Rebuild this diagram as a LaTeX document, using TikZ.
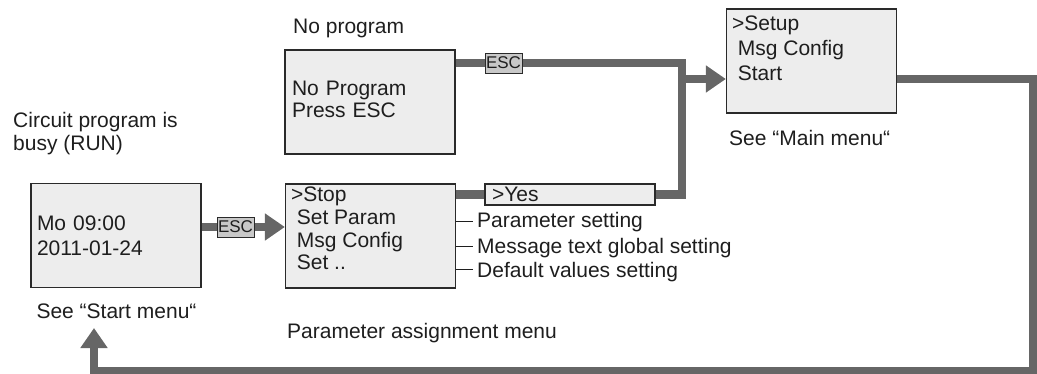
\documentclass[tikz,border=0pt]{standalone}
\usepackage{fontspec}
\setmainfont{Liberation Sans}
\setsansfont{Liberation Sans}
\usepackage{tikz}
\usetikzlibrary{positioning, arrows.meta, calc, backgrounds}
\definecolor{Scr_Fill}{HTML}{EDEDED}
\definecolor{Scr_Edge}{HTML}{2A2A2A}
\definecolor{Key_Fill}{HTML}{C8C8C8}
\definecolor{Flow_Grey}{HTML}{666666}
\definecolor{Txt_Dark}{HTML}{1E1E1E}

\begin{document}
\begin{tikzpicture}[
  x=1pt, y=-1pt,
  every node/.style={font=\fontsize{21}{24}\selectfont, text=Txt_Dark},
  screen/.style={draw=Scr_Edge, fill=Scr_Fill, line width=1.3pt, minimum width=170pt,
    minimum height=104pt, inner xsep=6pt, inner ysep=0pt, text width=158pt, align=left},
  scrtext/.style={inner sep=0pt, align=left, anchor=north west},
  esckey/.style={draw=Scr_Edge, fill=Key_Fill, line width=1pt, minimum width=37pt,
    minimum height=20pt, inner sep=0pt, font=\fontsize{17}{18}\selectfont},
  lbl/.style={inner sep=0pt, anchor=base west},
  conn/.style={draw=Flow_Grey, line width=8.5pt},
  arr/.style={conn, -{Triangle[length=20pt, width=26pt]}},
  tick/.style={draw=Txt_Dark, line width=1.3pt}
]
  \useasboundingbox (0,0) rectangle (1037,373);

  % Start screen (RUN)
  \node[lbl, anchor=north west, align=left, font=\fontsize{21}{23}\selectfont] (runlbl) at (13,112) {Circuit program is\\busy (RUN)};
  \node[screen, font=\fontsize{21}{25}\selectfont] (run) at (116,235.5) {Mo 09:00\\2011-01-24};
  \node[lbl] (runsee) at ([xshift=6pt, yshift=-30.5pt]run.south west) {See “Start menu“};

  % No program screen
  \node[lbl] (nplbl) at (293,33) {No program};
  \node[screen, font=\fontsize{21}{22.5}\selectfont, inner xsep=7pt, text width=156pt] (noprog) at (370,102) {No Program\\Press ESC\vspace{5pt}};

  % Parameter assignment menu
  \node[screen] (stop) at (370.5,236) {};
  \node[scrtext, font=\fontsize{21}{22.7}\selectfont] (stoptxt) at ([xshift=6pt, yshift=-3.5pt]stop.north west) {>Stop\\\ Set Param\\\ Msg Config\\\ Set ..};
  \node[lbl] (stopsee) at (287,338.5) {Parameter assignment menu};

  % Yes line
  \node[screen, minimum height=21pt, inner xsep=7pt, text width=156pt] (yes) at (570,194.5) {>Yes};

  % Main menu
  \node[screen] (setup) at (811.5,61) {};
  \node[scrtext, font=\fontsize{21}{25}\selectfont] (setuptxt) at ([xshift=6pt, yshift=-7pt]setup.north west) {>Setup\\\ Msg Config\\\ Start};
  \node[lbl] (setupsee) at (729,145.5) {See “Main menu“};

  % ESC keys
  \node[esckey] (esc1) at (503.5,63) {ESC};
  \node[esckey] (esc2) at (235.5,227) {ESC};

  % Sub-items of the menu
  \node[lbl, inner xsep=4pt] (parset) at (473,227.5) {Parameter setting};
  \node[lbl, inner xsep=4pt] (msgset) at (473,253.5) {Message text global setting};
  \node[lbl, inner xsep=4pt] (defset) at (473,277.5) {Default values setting};

  % Bends of the flow
  \coordinate (jn) at (682,79);
  \coordinate (loopR) at (1033,371);
  \coordinate (loopend) at (94,328);
  \coordinate (t1) at ([yshift=6pt]parset.base west);
  \coordinate (t2) at ([yshift=7pt]msgset.base west);
  \coordinate (t3) at ([yshift=8pt]defset.base west);

  % Arrows
  \begin{scope}[on background layer]
    \draw[conn] (noprog.east |- esc1) -- (esc1.west);
    \draw[conn] (esc1.east) -| (yes.east -| jn) -- (yes.east);
    \draw[conn] (stop.east |- yes) -- (yes.west);
    \draw[arr] (jn) -- (setup.west |- jn);
    \draw[arr] (setup.east |- jn) -| (loopR) -| (loopend);
    \draw[conn] (run.east |- esc2) -- (esc2.west);
    \draw[arr] (esc2.east) -- (stop.west |- esc2);
  \end{scope}

  % Ticks to the sub-items
  \draw[tick] (stop.east |- t1) -- (t1);
  \draw[tick] (stop.east |- t2) -- (t2);
  \draw[tick] (stop.east |- t3) -- (t3);
\end{tikzpicture}
\end{document}
